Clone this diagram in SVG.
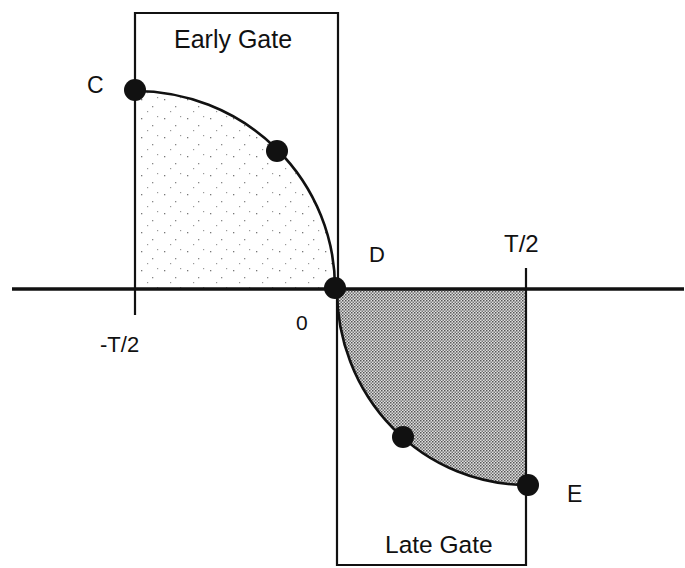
<svg xmlns="http://www.w3.org/2000/svg" width="685" height="568" viewBox="0 0 685 568">
<style>
  .ln { stroke:#111; fill:none; stroke-width:2.2; }
  .ax { stroke:#111; fill:none; stroke-width:3.5; }
  .cv { stroke:#111; fill:none; stroke-width:2.6; }
  .pt { fill:#111; }
  text { font-family:"Liberation Sans", Arial, sans-serif; fill:#111; }
</style>
<defs>
  <pattern id="sparse" width="23" height="19" patternUnits="userSpaceOnUse">
    <rect x="3" y="4" width="1.3" height="1.3" fill="#777"/>
    <rect x="14" y="11" width="1.3" height="1.3" fill="#888"/>
    <rect x="9" y="16" width="1.2" height="1.2" fill="#999"/>
    <rect x="19" y="2" width="1.2" height="1.2" fill="#999"/>
  </pattern>
  <pattern id="dense" width="3" height="3" patternUnits="userSpaceOnUse">
    <rect width="3" height="3" fill="#e0e0e0"/>
    <rect x="0" y="0" width="1.5" height="1.5" fill="#555"/>
    <rect x="1.5" y="1.5" width="1.5" height="1.5" fill="#777"/>
  </pattern>
</defs>
<g id="fills">
  <path d="M135,92 A200,196 0 0 1 335,288 L135,288 Z" fill="url(#sparse)"/>
  <path d="M337,290 A190,195 0 0 0 526,485 L526,290 Z" fill="url(#dense)"/>
</g>
<g id="early-gate">
  <path class="ln" d="M135,315 L135,13 L338,13 L338,290"/>
  <text x="174" y="48" font-size="25">Early Gate</text>
</g>
<g id="late-gate">
  <path class="ln" d="M337,290 L337,565 L526,565 L526,268"/>
  <text x="385" y="553" font-size="24.5">Late Gate</text>
</g>
<g id="axis">
  <line class="ax" x1="12" y1="289" x2="684" y2="289"/>
  <text x="100" y="352" font-size="22">-T/2</text>
  <text x="296" y="330" font-size="21">0</text>
  <text x="504" y="252" font-size="24">T/2</text>
</g>
<g id="connectors">
  <path class="cv" d="M135,91 A200,197 0 0 1 335,288"/>
  <path class="cv" d="M337,290 A190,195 0 0 0 527,485"/>
</g>
<g id="point-C">
  <circle class="pt" cx="135" cy="90" r="11"/>
  <text x="87" y="93" font-size="23">C</text>
</g>
<g id="point-upper">
  <circle class="pt" cx="277" cy="151" r="11"/>
</g>
<g id="point-D">
  <circle class="pt" cx="335" cy="288" r="11"/>
  <text x="369" y="262" font-size="22">D</text>
</g>
<g id="point-lower">
  <circle class="pt" cx="403" cy="437" r="11"/>
</g>
<g id="point-E">
  <circle class="pt" cx="528" cy="485" r="11"/>
  <text x="567" y="502" font-size="23">E</text>
</g>
</svg>
